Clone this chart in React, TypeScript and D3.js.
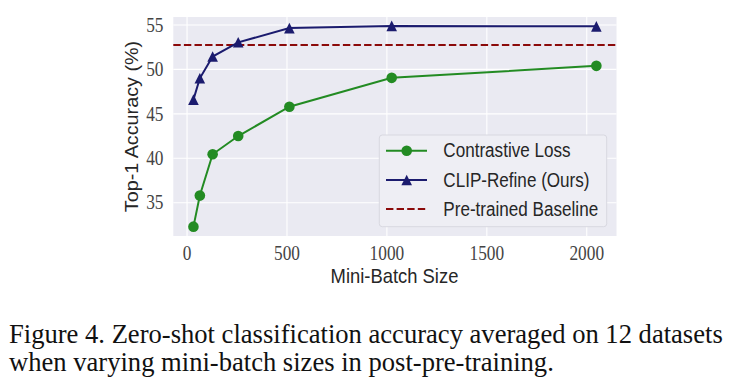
import React from "react";
import * as d3 from "d3";

const batchSizes = [32, 64, 128, 256, 512, 1024, 2048];
const contrastiveLoss = [32.3, 35.8, 40.45, 42.5, 45.8, 49.05, 50.4];
const clipRefine = [46.6, 49.0, 51.45, 53.05, 54.65, 54.9, 54.85];
const pretrainedBaseline = 52.75;
const xTickValues = [0, 500, 1000, 1500, 2000];
const yTickValues = [35, 40, 45, 50, 55];
const legendLabels = ["Contrastive Loss", "CLIP-Refine (Ours)", "Pre-trained Baseline"];
const captionLines = [
  "Figure 4. Zero-shot classification accuracy averaged on 12 datasets",
  "when varying mini-batch sizes in post-pre-training.",
];

const W = 732;
const H = 384;
const plot = { left: 173.3, right: 616.5, top: 17, bottom: 236 };
const SY = 1.13;
const SYT = 1.17;
const GREEN = "#238b23";
const NAVY = "#1b1b6e";
const RED = "#8b0a0a";
const SANS = "'Liberation Sans', Arial, sans-serif";
const SERIF = "'Liberation Serif', 'Times New Roman', serif";

function triPath(s: number) {
  return `M0,${-s}L${s},${s}L${-s},${s}Z`;
}

export default function App() {
  const x = d3.scaleLinear().domain([-68.8, 2148.8]).range([plot.left, plot.right]);
  const y = d3.scaleLinear().domain([31.25, 55.9]).range([plot.bottom, plot.top]);
  const line = d3
    .line<number>()
    .x((_, i) => x(batchSizes[i]))
    .y((d) => y(d));

  const legend = { x0: 379.3, x1: 606.7, y0: 135, y1: 226.7 };
  const rowY = [150.7, 180, 209];

  return (
    <svg
      width={W}
      height={H}
      style={{ position: "absolute", left: 0, top: 0, background: "#fff" }}
    >
      <rect x={0} y={0} width={W} height={H} fill="#fff" />
      <rect
        x={plot.left}
        y={plot.top}
        width={plot.right - plot.left}
        height={plot.bottom - plot.top}
        fill="#eaeaf2"
      />
      {xTickValues.map((t) => (
        <line key={"gx" + t} x1={x(t)} x2={x(t)} y1={plot.top} y2={plot.bottom} stroke="#fff" strokeWidth={1.1} />
      ))}
      {yTickValues.map((t) => (
        <line key={"gy" + t} x1={plot.left} x2={plot.right} y1={y(t)} y2={y(t)} stroke="#fff" strokeWidth={1.1} />
      ))}

      {/* baseline */}
      <line
        x1={plot.left}
        x2={plot.right}
        y1={y(pretrainedBaseline)}
        y2={y(pretrainedBaseline)}
        stroke={RED}
        strokeWidth={2}
        strokeDasharray="7.4,3.2"
      />

      {/* contrastive */}
      <path d={line(contrastiveLoss) || ""} fill="none" stroke={GREEN} strokeWidth={2} />
      {contrastiveLoss.map((v, i) => (
        <circle key={"c" + i} cx={x(batchSizes[i])} cy={y(v)} r={5.3} fill={GREEN} />
      ))}

      {/* clip refine */}
      <path d={line(clipRefine) || ""} fill="none" stroke={NAVY} strokeWidth={2} />
      {clipRefine.map((v, i) => (
        <path key={"t" + i} d={triPath(5.3)} transform={`translate(${x(batchSizes[i])},${y(v)})`} fill={NAVY} />
      ))}

      {/* tick labels */}
      {xTickValues.map((t) => (
        <g key={"xl" + t} transform={`translate(${x(t)},260) scale(1,${SYT})`}>
          <text textAnchor="middle" fontFamily={SERIF} fontSize={17.3} fill="#444">
            {t}
          </text>
        </g>
      ))}
      {yTickValues.map((t) => (
        <g key={"yl" + t} transform={`translate(163.5,${y(t) + 6.8}) scale(1,${SYT})`}>
          <text textAnchor="end" fontFamily={SERIF} fontSize={17.3} fill="#444">
            {t}
          </text>
        </g>
      ))}

      {/* axis labels */}
      <g transform={`translate(394.5,282.7) scale(1,${SY})`}>
        <text textAnchor="middle" fontFamily={SANS} fontSize={18.4} fill="#262626">
          Mini-Batch Size
        </text>
      </g>
      <g transform={`translate(137.5,126.5) scale(1,${SY}) rotate(-90)`}>
        <text textAnchor="middle" fontFamily={SANS} fontSize={17.5} fill="#262626">
          Top-1 Accuracy (%)
        </text>
      </g>

      {/* legend */}
      <rect
        x={legend.x0}
        y={legend.y0}
        width={legend.x1 - legend.x0}
        height={legend.y1 - legend.y0}
        rx={3}
        fill="#eeeef4"
        stroke="#d8d8e0"
        strokeWidth={1}
      />
      <line x1={386} x2={427} y1={rowY[0]} y2={rowY[0]} stroke={GREEN} strokeWidth={2} />
      <circle cx={406.7} cy={rowY[0]} r={5.3} fill={GREEN} />
      <line x1={386} x2={427} y1={rowY[1]} y2={rowY[1]} stroke={NAVY} strokeWidth={2} />
      <path d={triPath(5.3)} transform={`translate(406.7,${rowY[1]})`} fill={NAVY} />
      <line x1={386} x2={427} y1={rowY[2]} y2={rowY[2]} stroke={RED} strokeWidth={2} strokeDasharray="7.4,3.2" />
      {legendLabels.map((l, i) => (
        <g key={l} transform={`translate(443.3,${rowY[i] + 6.6}) scale(1,${SY})`}>
          <text fontFamily={SANS} fontSize={17.1} fill="#262626">
            {l}
          </text>
        </g>
      ))}

      {/* caption */}
      {captionLines.map((c, i) => (
        <g key={i} transform={`translate(9,${343 + i * 28}) scale(1,1.06)`}>
          <text fontFamily={SERIF} fontSize={26.6} fill="#111">
            {c}
          </text>
        </g>
      ))}
    </svg>
  );
}
